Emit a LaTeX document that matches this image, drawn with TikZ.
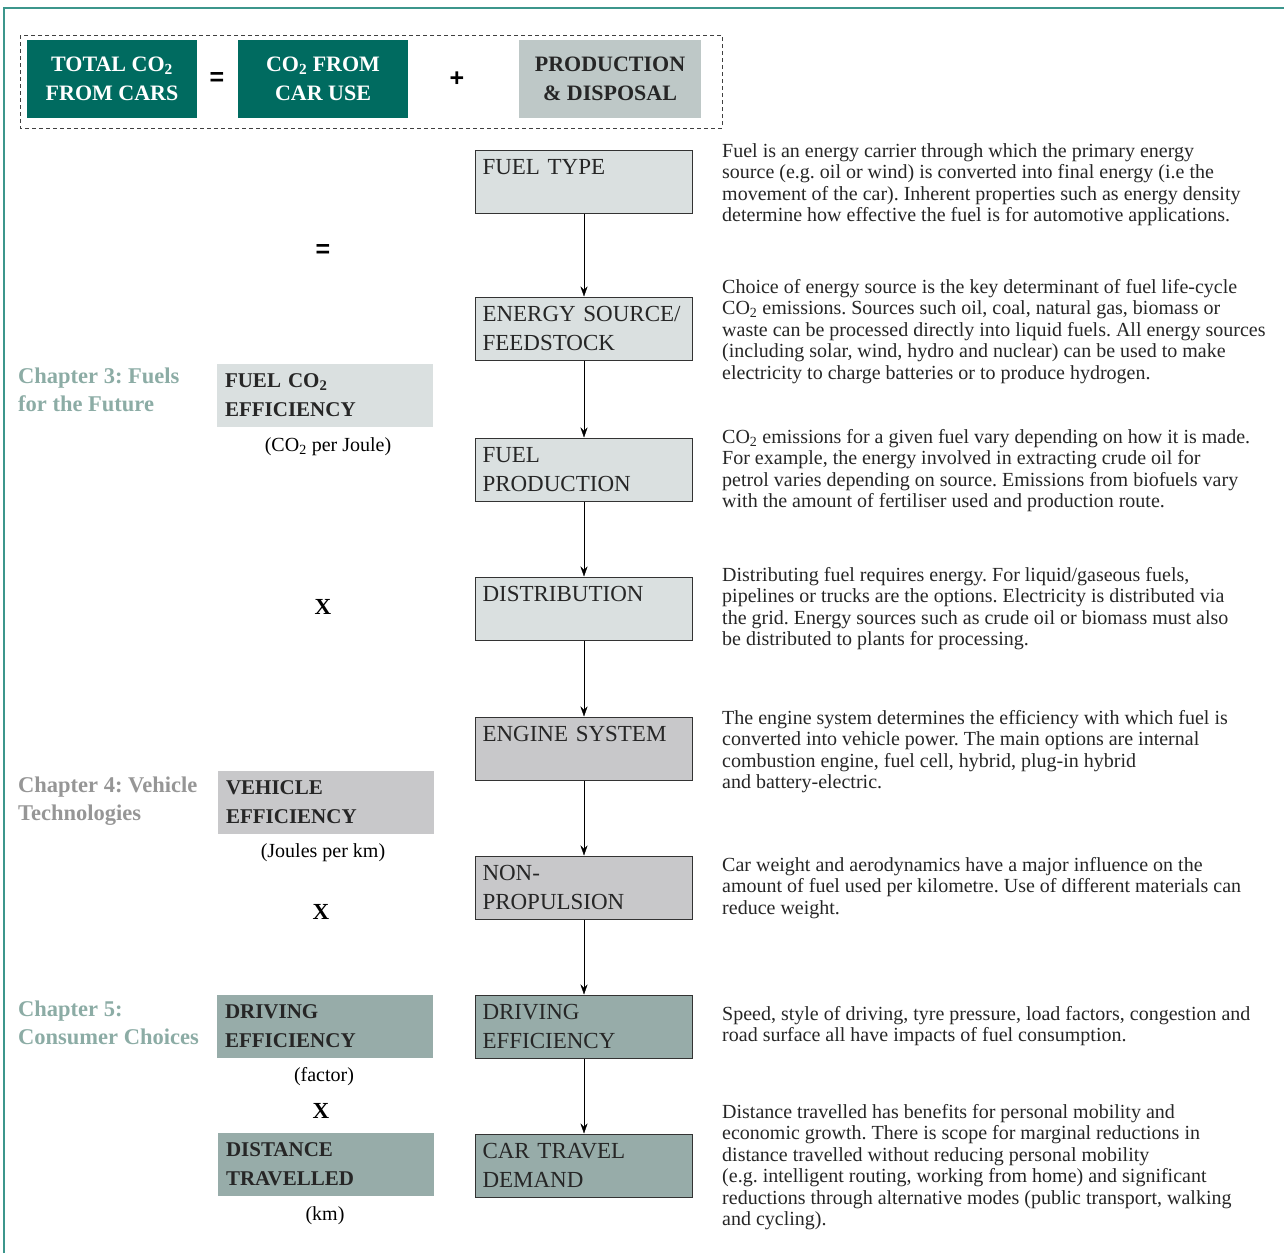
\documentclass[tikz,border=0pt]{standalone}
\usepackage{fontspec}
\setmainfont{Liberation Serif}
\newfontfamily\opfont{Liberation Sans}
\usetikzlibrary{arrows.meta}
\definecolor{co_teal}{RGB}{0,107,96}
\definecolor{co_prod}{RGB}{190,200,199}
\definecolor{co_fuel}{RGB}{218,224,224}
\definecolor{co_veh}{RGB}{200,200,202}
\definecolor{co_cons}{RGB}{151,172,169}
\definecolor{co_chap}{RGB}{140,172,165}
\definecolor{co_chapg}{RGB}{150,150,150}
\definecolor{co_frame}{RGB}{60,150,140}
\tikzstyle{tb}=[fill=co_teal,text=white,minimum width=170pt,minimum height=78pt,
  align=center,inner sep=0pt,font=\bfseries\fontsize{22}{29}\selectfont]
\tikzstyle{cb}=[draw=black!80,line width=1pt,minimum width=217pt,minimum height=63pt,
  text width=203pt,inner sep=7pt,align=left,text=black!85,font=\fontsize{23}{29}\selectfont]
\tikzstyle{lb}=[minimum width=216pt,minimum height=63pt,text width=200pt,inner sep=8pt,
  align=left,text=black!85,font=\bfseries\fontsize{21}{29}\selectfont]
\tikzstyle{unit}=[inner sep=0pt,font=\fontsize{20}{21.5}\selectfont]
\tikzstyle{chap}=[anchor=north west,inner sep=0pt,align=left,font=\bfseries\fontsize{22.5}{28}\selectfont]
\tikzstyle{desc}=[anchor=north west,inner sep=0pt,align=left,text=black!85,font=\fontsize{20}{21.5}\selectfont]
\tikzstyle{op}=[inner sep=0pt,font=\opfont\bfseries\fontsize{25}{25}\selectfont]
\tikzstyle{times}=[inner sep=0pt,font=\bfseries\fontsize{23}{23}\selectfont]

\begin{document}
\frenchspacing
\begin{tikzpicture}[x=1pt,y=-1pt,>={Stealth[length=10pt,width=7pt]}]
    \useasboundingbox (0,0) rectangle (1284,1253);
    \draw [co_frame,line width=1.2pt] (4,1253) -- (4,8) -- (1284,8);
    \draw [black!75,dashed,dash pattern=on 4pt off 3pt,line width=0.9pt] (20,35) rectangle (722,128);

    % top equation
    \node [style=tb] (total) at (112,79) {TOTAL CO\textsubscript{2}\\FROM CARS};
    \node [style=op] (eqtop) at (217,79) {=};
    \node [style=tb] (caruse) at (323,79) {CO\textsubscript{2} FROM\\CAR USE};
    \node [style=op] (plus) at (457,79) {+};
    \node [style=tb,fill=co_prod,text=black!85,minimum width=182pt] (prod) at (610,79) {PRODUCTION\\\& DISPOSAL};

    % chain
    \node [style=cb,fill=co_fuel] (ftype) at (584,181.5) {FUEL TYPE\\\mbox{}};
    \node [style=cb,fill=co_fuel] (esrc) at (584,328.5) {ENERGY SOURCE/\\FEEDSTOCK};
    \node [style=cb,fill=co_fuel] (fprod) at (584,469.5) {FUEL\\PRODUCTION};
    \node [style=cb,fill=co_fuel] (distr) at (584,608.5) {DISTRIBUTION\\\mbox{}};
    \node [style=cb,fill=co_veh] (engine) at (584,748.5) {ENGINE SYSTEM\\\mbox{}};
    \node [style=cb,fill=co_veh] (nonprop) at (584,887.5) {NON-\\PROPULSION};
    \node [style=cb,fill=co_cons] (drive) at (584,1026.5) {DRIVING\\EFFICIENCY};
    \node [style=cb,fill=co_cons] (demand) at (584,1165.5) {CAR TRAVEL\\DEMAND};
    \draw [->] (ftype) to (esrc);
    \draw [->] (esrc) to (fprod);
    \draw [->] (fprod) to (distr);
    \draw [->] (distr) to (engine);
    \draw [->] (engine) to (nonprop);
    \draw [->] (nonprop) to (drive);
    \draw [->] (drive) to (demand);

    % factors
    \node [style=op] (eqleft) at (323,251) {=};
    \node [style=lb,fill=co_fuel] (fuelco) at (325,395.5) {FUEL CO\textsubscript{2}\\EFFICIENCY};
    \node [style=unit] (ujoule) at (328,447) {(CO\textsubscript{2} per Joule)};
    \node [style=times] (x1) at (323,607) {X};
    \node [style=lb,fill=co_veh] (vehic) at (326,802.5) {VEHICLE\\EFFICIENCY};
    \node [style=unit] (ukm) at (323,853) {(Joules per km)};
    \node [style=times] (x2) at (321,912) {X};
    \node [style=lb,fill=co_cons] (drivef) at (325,1026.5) {DRIVING\\EFFICIENCY};
    \node [style=unit] (ufactor) at (324,1077) {(factor)};
    \node [style=times] (x3) at (321,1111) {X};
    \node [style=lb,fill=co_cons] (dist) at (326,1164.5) {DISTANCE\\TRAVELLED};
    \node [style=unit] (udist) at (325,1216) {(km)};

    \node [style=chap,text=co_chap] (ch3) at (18,368) {Chapter 3: Fuels\\for the Future};
    \node [style=chap,text=co_chapg] (ch4) at (18,777) {Chapter 4: Vehicle\\Technologies};
    \node [style=chap,text=co_chap] (ch5) at (18,1001) {Chapter 5:\\Consumer Choices};

    % descriptions
    \node [style=desc] (dtype) at (722,143) {Fuel is an energy carrier through which the primary energy\\
      source (e.g. oil or wind) is converted into final energy (i.e the\\
      movement of the car). Inherent properties such as energy density\\
      determine how effective the fuel is for automotive applications.};
    \node [style=desc] (dsrc) at (722,279) {Choice of energy source is the key determinant of fuel life-cycle\\
      CO\textsubscript{2} emissions. Sources such oil, coal, natural gas, biomass or\\
      waste can be processed directly into liquid fuels. All energy sources\\
      (including solar, wind, hydro and nuclear) can be used to make\\
      electricity to charge batteries or to produce hydrogen.};
    \node [style=desc] (dprod) at (722,429) {CO\textsubscript{2} emissions for a given fuel vary depending on how it is made.\\
      For example, the energy involved in extracting crude oil for\\
      petrol varies depending on source. Emissions from biofuels vary\\
      with the amount of fertiliser used and production route.};
    \node [style=desc] (ddistr) at (722,567) {Distributing fuel requires energy. For liquid/gaseous fuels,\\
      pipelines or trucks are the options. Electricity is distributed via\\
      the grid. Energy sources such as crude oil or biomass must also\\
      be distributed to plants for processing.};
    \node [style=desc] (dengine) at (722,710) {The engine system determines the efficiency with which fuel is\\
      converted into vehicle power. The main options are internal\\
      combustion engine, fuel cell, hybrid, plug-in hybrid\\
      and battery-electric.};
    \node [style=desc] (dnonprop) at (722,857) {Car weight and aerodynamics have a major influence on the\\
      amount of fuel used per kilometre. Use of different materials can\\
      reduce weight.};
    \node [style=desc] (ddrive) at (722,1006) {Speed, style of driving, tyre pressure, load factors, congestion and\\
      road surface all have impacts of fuel consumption.};
    \node [style=desc] (ddemand) at (722,1104) {Distance travelled has benefits for personal mobility and\\
      economic growth. There is scope for marginal reductions in\\
      distance travelled without reducing personal mobility\\
      (e.g. intelligent routing, working from home) and significant\\
      reductions through alternative modes (public transport, walking\\
      and cycling).};
\end{tikzpicture}
\end{document}
